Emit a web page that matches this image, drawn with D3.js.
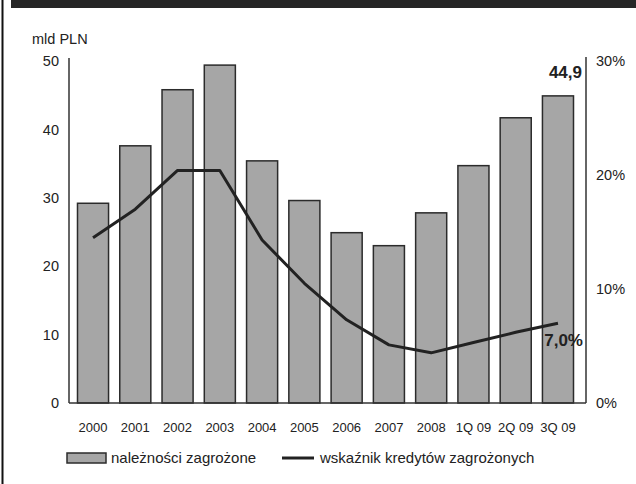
<!DOCTYPE html>
<html>
<head>
<meta charset="utf-8">
<script src="https://cdn.jsdelivr.net/npm/d3@7"></script>
<style>
  html, body { margin: 0; padding: 0; background: #fff; }
  svg { display: block; font-family: "Liberation Sans", Arial, sans-serif; }
</style>
</head>
<body>
<svg id="chart" width="636" height="484"></svg>
<script>
// Należności zagrożone (mld PLN) i wskaźnik kredytów zagrożonych (%)
const periods = ["2000", "2001", "2002", "2003", "2004", "2005", "2006", "2007", "2008", "1Q 09", "2Q 09", "3Q 09"];
const impaired = [29.2, 37.6, 45.8, 49.4, 35.4, 29.6, 24.9, 23.0, 27.8, 34.7, 41.7, 44.9];
const nplRatio = [14.5, 17.0, 20.4, 20.4, 14.3, 10.5, 7.3, 5.1, 4.4, 5.3, 6.2, 7.0];
const leftTicks = [0, 10, 20, 30, 40, 50];
const rightTicks = [0, 10, 20, 30];
const unitLabel = "mld PLN";
const legendLabels = ["należności zagrożone", "wskaźnik kredytów zagrożonych"];

const svg = d3.select("#chart");
const ink = "#222";

// Frame: left rule and dark header strip
svg.append("rect").attr("x", 0).attr("y", 0).attr("width", 636).attr("height", 484).attr("fill", "#fff");
svg.append("line").attr("x1", 2.5).attr("x2", 2.5).attr("y1", 0).attr("y2", 484)
  .attr("stroke", "#111").attr("stroke-width", 2);
svg.append("rect").attr("x", 11).attr("y", 0).attr("width", 625).attr("height", 8).attr("fill", "#262626");

const axisLeftX = 69, axisRightX = 586, baseY = 403, topY = 61;

const x = d3.scaleBand().domain(periods).range([72, 579]).paddingInner(0.265).paddingOuter(0.13);
const yL = d3.scaleLinear().domain([0, 50]).range([baseY, topY]);
const yR = d3.scaleLinear().domain([0, 30]).range([baseY, topY]);

// Bars
svg.append("g").selectAll("rect").data(impaired).join("rect")
  .attr("x", (d, i) => x(periods[i]))
  .attr("y", d => yL(d))
  .attr("width", x.bandwidth())
  .attr("height", d => baseY - yL(d))
  .attr("fill", "#a6a6a6")
  .attr("stroke", "#2b2b2b")
  .attr("stroke-width", 1.5);

// Axis lines
const axisG = svg.append("g").attr("stroke", "#333").attr("stroke-width", 1.5);
axisG.append("line").attr("x1", axisLeftX).attr("x2", axisLeftX).attr("y1", 58).attr("y2", baseY);
axisG.append("line").attr("x1", axisRightX).attr("x2", axisRightX).attr("y1", 57).attr("y2", baseY);
axisG.append("line").attr("x1", axisLeftX).attr("x2", axisRightX).attr("y1", baseY).attr("y2", baseY);

// Left axis labels
const gL = svg.append("g").attr("transform", `translate(${axisLeftX},0)`)
  .call(d3.axisLeft(yL).tickValues(leftTicks).tickSize(0).tickPadding(10));
gL.select(".domain").remove();
gL.selectAll("text").attr("font-size", 14.5).attr("fill", ink).attr("font-family", "Liberation Sans, Arial, sans-serif");

// Right axis labels
const gR = svg.append("g").attr("transform", `translate(${axisRightX},0)`)
  .call(d3.axisRight(yR).tickValues(rightTicks).tickSize(0).tickPadding(10).tickFormat(d => d + "%"));
gR.select(".domain").remove();
gR.selectAll("text").attr("font-size", 14.5).attr("fill", ink).attr("font-family", "Liberation Sans, Arial, sans-serif");

// Category labels
const gX = svg.append("g").attr("transform", `translate(0,${baseY})`)
  .call(d3.axisBottom(x).tickSize(0).tickPadding(20));
gX.select(".domain").remove();
gX.selectAll("text").attr("font-size", 13).attr("fill", ink).attr("font-family", "Liberation Sans, Arial, sans-serif");

// Unit caption
svg.append("text").attr("x", 32).attr("y", 44).attr("font-size", 14.5).attr("fill", ink).text(unitLabel);

// Ratio line
const line = d3.line()
  .x((d, i) => x(periods[i]) + x.bandwidth() / 2)
  .y(d => yR(d))
  .curve(d3.curveLinear);
svg.append("path").datum(nplRatio)
  .attr("d", line)
  .attr("fill", "none")
  .attr("stroke", ink)
  .attr("stroke-width", 3)
  .attr("stroke-linejoin", "round");

// Value labels for the latest period
const last = periods.length - 1;
const lastX = x(periods[last]) + x.bandwidth() / 2;
const fmt = v => v.toFixed(1).replace(".", ",");
svg.append("text").attr("x", lastX + 24).attr("y", yL(impaired[last]) - 18)
  .attr("text-anchor", "end").attr("font-size", 17).attr("font-weight", "bold").attr("fill", ink)
  .text(fmt(impaired[last]));
svg.append("text").attr("x", lastX + 25).attr("y", yR(nplRatio[last]) + 23)
  .attr("text-anchor", "end").attr("font-size", 17).attr("font-weight", "bold").attr("fill", ink)
  .text(fmt(nplRatio[last]) + "%");

// Legend
const lg = svg.append("g");
lg.append("rect").attr("x", 67).attr("y", 453).attr("width", 39).attr("height", 10)
  .attr("fill", "#a6a6a6").attr("stroke", "#2b2b2b").attr("stroke-width", 1.5);
lg.append("text").attr("x", 111).attr("y", 463).attr("font-size", 15).attr("fill", ink).text(legendLabels[0]);
lg.append("line").attr("x1", 282).attr("x2", 314).attr("y1", 458).attr("y2", 458)
  .attr("stroke", ink).attr("stroke-width", 3);
lg.append("text").attr("x", 320).attr("y", 463).attr("font-size", 15).attr("fill", ink).text(legendLabels[1]);
</script>
</body>
</html>
